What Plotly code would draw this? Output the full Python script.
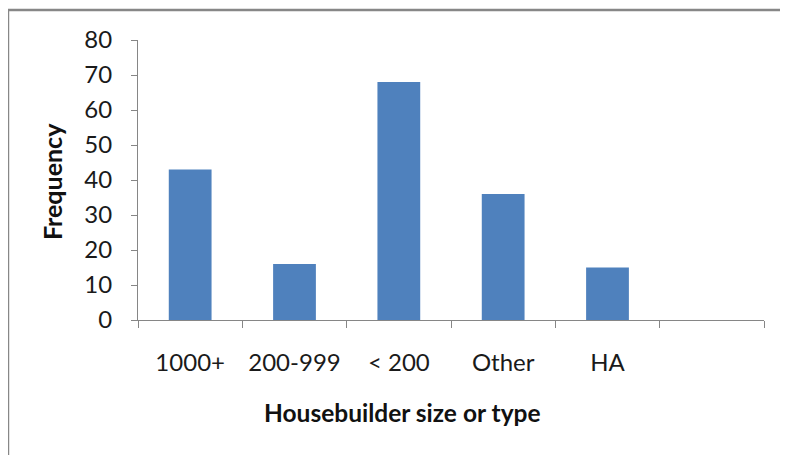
import plotly.graph_objects as go

# ── Data ──────────────────────────────────────────────────────────────────────
categories = ["1000+", "200-999", "< 200", "Other", "HA", " "]
frequency = [43, 16, 68, 36, 15, None]
y_ticks = [0, 10, 20, 30, 40, 50, 60, 70, 80]

BAR_COLOUR = "#4F81BD"
AXIS_GREY = "#868686"
FONT = "Lato"

fig = go.Figure(
    go.Bar(x=categories, y=frequency, marker_color=BAR_COLOUR,
           marker_line=dict(color=BAR_COLOUR, width=0))
)

# ── Axes ──────────────────────────────────────────────────────────────────────
fig.update_xaxes(
    type="category",
    showline=True, linecolor=AXIS_GREY, linewidth=1,
    ticks="outside", tickson="boundaries", ticklen=7, tickcolor=AXIS_GREY,
    ticklabelstandoff=21,
    tickfont=dict(family=FONT, size=24, color="#1a1a1a"),
    showgrid=False, zeroline=False,
)
fig.update_yaxes(
    range=[0, 80], tickvals=y_ticks,
    showline=True, linecolor=AXIS_GREY, linewidth=1,
    ticks="outside", ticklen=6, tickcolor=AXIS_GREY,
    ticklabelstandoff=14,
    tickfont=dict(family=FONT, size=24, color="#1a1a1a"),
    showgrid=False, zeroline=False,
)

# ── Axis titles (placed as annotations to match the original offsets) ─────────
fig.add_annotation(text="<b>Housebuilder size or type</b>", xref="paper", yref="paper",
                   x=0.4233, y=-0.332, xanchor="center", yanchor="middle",
                   showarrow=False,
                   font=dict(family=FONT, size=24.5, color="#111111"))
fig.add_annotation(text="<b>Frequency</b>", xref="paper", yref="paper",
                   x=-0.1374, y=0.496, xanchor="center", yanchor="middle",
                   textangle=-90, showarrow=False,
                   font=dict(family=FONT, size=25, color="#111111"))

# ── Chart frame (top and left edges only) ─────────────────────────────────────
for x0, y0, x1, y1 in [(-0.2077, 1.107, 1.06, 1.107), (-0.2077, 1.107, -0.2077, -0.52)]:
    fig.add_shape(type="line", xref="paper", yref="paper",
                  x0=x0, y0=y0, x1=x1, y1=y1,
                  line=dict(color="#878787", width=2.5))

fig.update_layout(
    width=788, height=455,
    margin=dict(l=130, r=32, t=32, b=143),
    bargap=0.59,
    plot_bgcolor="white", paper_bgcolor="white",
    showlegend=False,
    font=dict(family=FONT),
)

fig.write_html("out.html")
